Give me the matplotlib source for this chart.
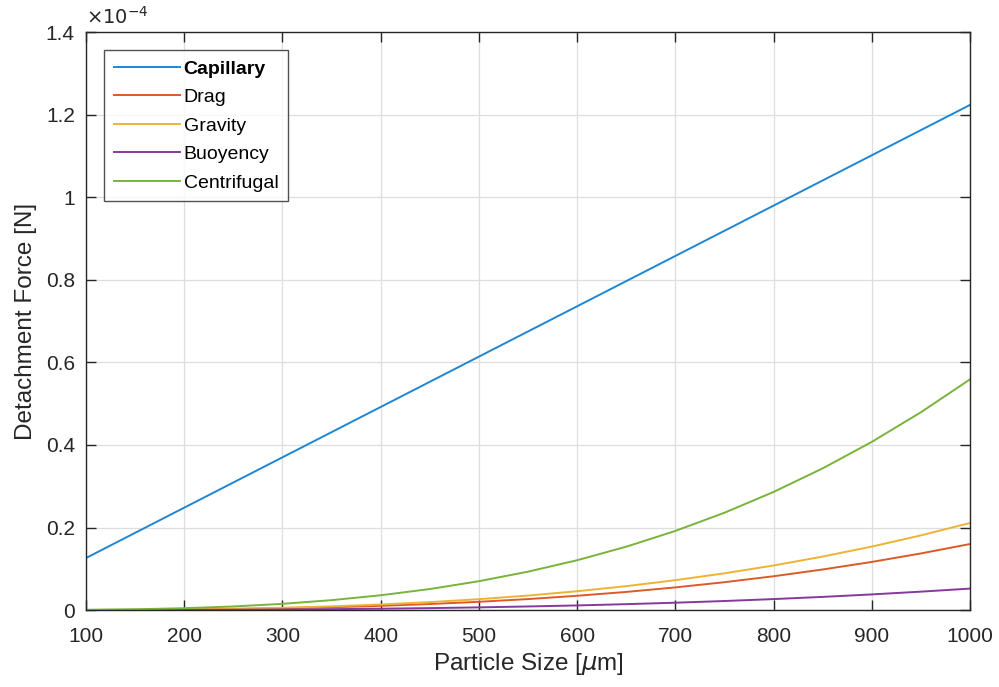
import matplotlib
matplotlib.use("Agg")
import matplotlib.pyplot as plt
from matplotlib.ticker import FuncFormatter

# particle size in micrometres
size_um = [100, 150, 200, 250, 300, 350, 400, 450, 500, 550,
           600, 650, 700, 750, 800, 850, 900, 950, 1000]

# detachment forces, in units of 1e-4 N
capillary = [0.126, 0.187, 0.248, 0.309, 0.370, 0.431, 0.492, 0.553, 0.614, 0.675,
             0.736, 0.797, 0.858, 0.919, 0.980, 1.041, 1.102, 1.163, 1.224]
drag = [0.0002, 0.0005, 0.0013, 0.0025, 0.0043, 0.0069, 0.0102, 0.0146, 0.0200, 0.0266,
        0.0346, 0.0439, 0.0549, 0.0675, 0.0819, 0.0983, 0.1166, 0.1372, 0.160]
gravity = [0.0002, 0.0007, 0.0017, 0.0033, 0.0057, 0.0090, 0.0135, 0.0192, 0.0264, 0.0351,
           0.0456, 0.0579, 0.0724, 0.0890, 0.1080, 0.1296, 0.1538, 0.1809, 0.211]
buoyency = [0.0001, 0.0002, 0.0004, 0.0008, 0.0014, 0.0022, 0.0033, 0.0047, 0.0065, 0.0087,
            0.0112, 0.0143, 0.0178, 0.0219, 0.0266, 0.0319, 0.0379, 0.0446, 0.052]
centrifugal = [0.0006, 0.0019, 0.0045, 0.0087, 0.0151, 0.0240, 0.0358, 0.0509, 0.0699, 0.0930,
               0.1207, 0.1535, 0.1917, 0.2358, 0.2862, 0.3433, 0.4075, 0.4793, 0.559]

series = [
    ("Capillary", capillary, "#1f86d2"),
    ("Drag", drag, "#dc5a28"),
    ("Gravity", gravity, "#edb334"),
    ("Buoyency", buoyency, "#86399a"),
    ("Centrifugal", centrifugal, "#7ab33a"),
]

plt.rcParams["font.family"] = ["Liberation Sans", "DejaVu Sans"]
text_color = "#262626"

fig = plt.figure(figsize=(9.99, 6.87), dpi=100)
ax = fig.add_axes([0.086, 0.112, 0.885, 0.841])

for name, vals, color in series:
    ax.plot(size_um, vals, color=color, linewidth=1.4, label=name)

ax.set_xlim(100, 1000)
ax.set_ylim(0, 1.4)
ax.set_xticks(range(100, 1001, 100))
ax.set_yticks([0, 0.2, 0.4, 0.6, 0.8, 1.0, 1.2, 1.4])
ax.yaxis.set_major_formatter(FuncFormatter(lambda v, p: "%g" % round(v, 2)))

ax.grid(True, color="#dedede", linewidth=0.9)
ax.set_axisbelow(True)
for sp in ax.spines.values():
    sp.set_color(text_color)
    sp.set_linewidth(1.0)
ax.tick_params(direction="in", length=7, width=1.0, top=True, right=True,
               labelsize=15, colors=text_color)
ax.tick_params(axis="x", pad=12)
ax.tick_params(axis="y", pad=8)

ax.set_xlabel(r"Particle Size [$\mu$m]", fontsize=17.5, color=text_color, labelpad=4)
ax.set_ylabel("Detachment Force [N]", fontsize=17.5, color=text_color, labelpad=6)
ax.text(0.0, 1.008, r"$\times10^{-4}$", transform=ax.transAxes, fontsize=14,
        color=text_color, ha="left", va="bottom")

leg = ax.legend(loc="upper left", bbox_to_anchor=(0.0204, 0.969), borderaxespad=0,
                fontsize=14, frameon=True, fancybox=False, edgecolor=text_color,
                handlelength=3.4, handletextpad=0.2, borderpad=0.5, labelspacing=0.56)
leg.get_frame().set_linewidth(1.0)
leg.get_texts()[0].set_fontweight("bold")

fig.savefig("out.png", dpi=100)
